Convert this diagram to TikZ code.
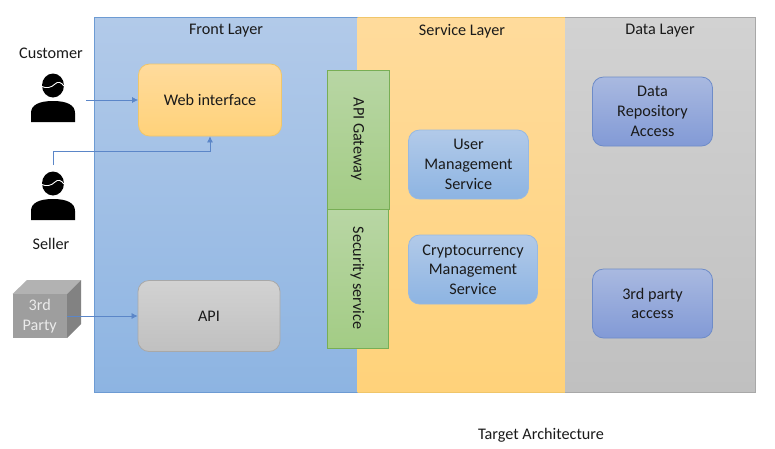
\documentclass[tikz,border=0pt]{standalone}
\usepackage{fontspec}
\setmainfont{Carlito}
\usetikzlibrary{arrows.meta}
\definecolor{blueT}{HTML}{B2CAE9}
\definecolor{blueB}{HTML}{8DB4E2}
\definecolor{blueE}{HTML}{6D9BD3}
\definecolor{orT}{HTML}{FFDB9C}
\definecolor{orB}{HTML}{FFD27A}
\definecolor{orE}{HTML}{F0C66A}
\definecolor{grT}{HTML}{D2D2D2}
\definecolor{grB}{HTML}{C0C0C0}
\definecolor{grE}{HTML}{A8A8A8}
\definecolor{gnT}{HTML}{B8D6A4}
\definecolor{gnB}{HTML}{A3CC85}
\definecolor{gnE}{HTML}{78AE55}
\definecolor{darkT}{HTML}{A9B9E0}
\definecolor{darkB}{HTML}{829AD6}
\definecolor{darkE}{HTML}{6E8CC8}
\definecolor{arrowc}{HTML}{5B86C8}
\definecolor{inkc}{HTML}{1A1A1A}
\tikzset{
  x=1pt,y=-1pt,
  every node/.style={font=\fontsize{16.2}{19.7}\selectfont,text=inkc,align=center,inner sep=0pt},
  round box/.style={rectangle,rounded corners=11pt,line width=.8pt},
  obox/.style={round box,draw=orE,top color=orT,bottom color=orB},
  gbox/.style={round box,draw=grE,top color=grT,bottom color=grB},
  bbox/.style={round box,draw=blueE!70,top color=blueT,bottom color=blueB},
  dbox/.style={round box,draw=darkE,top color=darkT,bottom color=darkB},
  gnbox/.style={rectangle,draw=gnE,top color=gnT,bottom color=gnB,line width=.8pt},
  link/.style={draw=arrowc,line width=.7pt,-{Latex[length=6pt,width=6pt]}},
  lbl/.style={anchor=center},
  pics/person/.style={code={
    \fill[black] (0,11) .. controls (0,3) and (8,-1) .. (22,-1) .. controls (36,-1) and (44,3) .. (44,11) -- (44,20) -- (0,20) -- cycle;
    \fill[black] (22,-16.5) ellipse[x radius=11,y radius=12];
    \draw[white,line width=.9pt] (11,-15.5) .. controls (15,-13.5) and (20,-14) .. (24,-18) .. controls (27,-21) and (30,-20) .. (33.5,-15.5);
  }},
}
\begin{document}
\begin{tikzpicture}
\useasboundingbox (0,0) rectangle (775,448);
% layers
\path[draw=blueE,line width=.8pt,top color=blueT,bottom color=blueB] (94.5,17.5) rectangle (358,392);
\path[top color=orT,bottom color=orB] (357.6,17.1) rectangle (565,392.4);
\path[top color=grT,bottom color=grB] (565,17.1) rectangle (755,392.4);
\path[draw=orE,line width=.5pt] (358,17.5) -- (565,17.5) (358,392) -- (565,392);
\path[draw=grE,line width=.5pt] (565,17.5) -- (755,17.5) -- (755,392) -- (565,392);
\node[lbl] (front) at (226,31) {Front Layer};
\node[lbl] (service) at (462,31) {Service Layer};
\node[lbl] (data) at (660,31) {Data Layer};
% actors
\node[lbl] (customerlabel) at (51,53) {Customer};
\node[lbl] (sellerlabel) at (51,244) {Seller};
\pic at (31,102) {person};
\pic at (31,200) {person};
\coordinate (customer) at (86,100);
\coordinate (seller) at (53,165);
% cube
\fill[fill=black!30] (12.5,294) -- (27,280) -- (81,280) -- (67,294) -- cycle;
\fill[fill=black!49] (67,294) -- (81,280) -- (81,324) -- (67,338) -- cycle;
\node[rectangle,fill=black!38,minimum width=54pt,minimum height=44pt,anchor=north west,text=white!92!black] (third) at (12.5,294) {3rd\\Party};
% boxes
\node[obox,minimum width=143pt,minimum height=72pt] (web) at (210,100) {Web interface};
\node[gbox,minimum width=142pt,minimum height=71pt] (api) at (209,316) {API};
\node[gnbox,minimum width=62pt,minimum height=139pt] (gateway) at (358.5,139.5) {};
\node[rotate=-90] (gatewaylabel) at (357.5,139) {API Gateway};
\node[gnbox,minimum width=61pt,minimum height=139pt] (security) at (358,278.5) {};
\node[rotate=-90] (securitylabel) at (357.5,278) {Security service};
\node[bbox,minimum width=120pt,minimum height=69pt] (user) at (468.5,164.5) {User\\Management\\Service};
\node[bbox,minimum width=129pt,minimum height=69pt] (crypto) at (473,269.5) {Cryptocurrency\\Management\\Service};
\node[dbox,minimum width=120pt,minimum height=69pt] (repo) at (652.5,111.5) {Data\\Repository\\Access};
\node[dbox,minimum width=120pt,minimum height=69pt] (party) at (652.5,303.5) {3rd party\\access};
\node[lbl] (title) at (541,435) {Target Architecture};
% connectors
\draw[link] (customer) -- (web.west |- customer);
\draw[link] (seller) -- (53,151) -- (web.south |- 0,151) -- (web.south);
\draw[link] (third.east |- api.west) -- (api.west);
\end{tikzpicture}
\end{document}
